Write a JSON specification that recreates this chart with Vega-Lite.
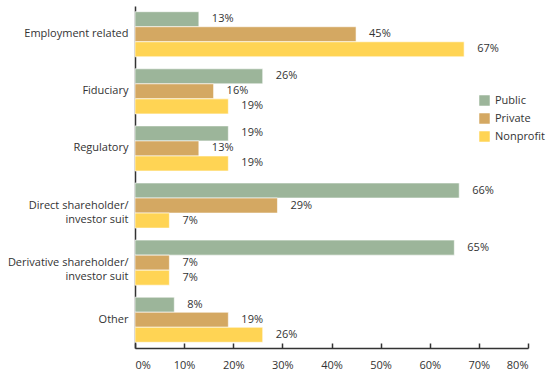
{
  "$schema": "https://vega.github.io/schema/vega-lite/v6.json",
  "width": 393,
  "height": 342,
  "autosize": "none",
  "padding": {"left": 135, "top": 6, "right": 22, "bottom": 25},
  "background": "white",
  "config": {
    "view": {"stroke": null},
    "font": "Open Sans",
    "text": {"font": "Open Sans"}
  },
  "data": {
    "values": [
      {"category": "Employment related", "type": "Public", "value": 0.13},
      {"category": "Employment related", "type": "Private", "value": 0.45},
      {"category": "Employment related", "type": "Nonprofit", "value": 0.67},
      {"category": "Fiduciary", "type": "Public", "value": 0.26},
      {"category": "Fiduciary", "type": "Private", "value": 0.16},
      {"category": "Fiduciary", "type": "Nonprofit", "value": 0.19},
      {"category": "Regulatory", "type": "Public", "value": 0.19},
      {"category": "Regulatory", "type": "Private", "value": 0.13},
      {"category": "Regulatory", "type": "Nonprofit", "value": 0.19},
      {"category": "Direct shareholder/investor suit", "type": "Public", "value": 0.66},
      {"category": "Direct shareholder/investor suit", "type": "Private", "value": 0.29},
      {"category": "Direct shareholder/investor suit", "type": "Nonprofit", "value": 0.07},
      {"category": "Derivative shareholder/investor suit", "type": "Public", "value": 0.65},
      {"category": "Derivative shareholder/investor suit", "type": "Private", "value": 0.07},
      {"category": "Derivative shareholder/investor suit", "type": "Nonprofit", "value": 0.07},
      {"category": "Other", "type": "Public", "value": 0.08},
      {"category": "Other", "type": "Private", "value": 0.19},
      {"category": "Other", "type": "Nonprofit", "value": 0.26}
    ]
  },
  "encoding": {
    "y": {
      "field": "category",
      "type": "nominal",
      "sort": ["Employment related", "Fiduciary", "Regulatory", "Direct shareholder/investor suit", "Derivative shareholder/investor suit", "Other"],
      "scale": {"paddingInner": 0.21, "paddingOuter": 0.1},
      "axis": {
        "title": null,
        "ticks": false,
        "domainColor": "#333333",
        "domainWidth": 1.5,
        "labelFontSize": 11,
        "labelColor": "#333333",
        "labelPadding": 7,
        "labelLimit": 200,
        "labelLineHeight": 14,
        "labelExpr": "indexof(datum.label, '/') >= 0 ? split(replace(datum.label, '/', '/|'), '|') : datum.label"
      }
    },
    "yOffset": {
      "field": "type",
      "type": "nominal",
      "sort": ["Public", "Private", "Nonprofit"],
      "scale": {"paddingInner": 0, "paddingOuter": 0}
    },
    "x": {
      "field": "value",
      "type": "quantitative",
      "scale": {"domain": [0, 0.8], "nice": false},
      "axis": {
        "title": null,
        "format": ".0%",
        "values": [0, 0.1, 0.2, 0.3, 0.4, 0.5, 0.6, 0.7, 0.8],
        "grid": false,
        "domainColor": "#333333",
        "domainWidth": 1.5,
        "tickColor": "#333333",
        "tickWidth": 1.5,
        "tickSize": -5,
        "labelPadding": 16,
        "labelFontSize": 11,
        "labelColor": "#333333"
      }
    }
  },
  "layer": [
    {
      "mark": {"type": "bar", "stroke": "white", "strokeWidth": 1, "strokeOpacity": 0.6},
      "encoding": {
        "color": {
          "field": "type",
          "type": "nominal",
          "sort": ["Public", "Private", "Nonprofit"],
          "scale": {"domain": ["Public", "Private", "Nonprofit"], "range": ["#9cb59a", "#d4a862", "#ffd454"]},
          "legend": {
            "title": null,
            "orient": "none",
            "legendX": 344,
            "legendY": 89,
            "symbolType": "square",
            "symbolSize": 110,
            "symbolStrokeWidth": 0,
            "labelFontSize": 11,
            "labelColor": "#333333",
            "rowPadding": 6,
            "labelOffset": 5
          }
        }
      }
    },
    {
      "mark": {"type": "text", "align": "left", "dx": 13, "fontSize": 11, "color": "#333333"},
      "encoding": {
        "text": {"field": "value", "type": "quantitative", "format": ".0%"}
      }
    }
  ]
}
